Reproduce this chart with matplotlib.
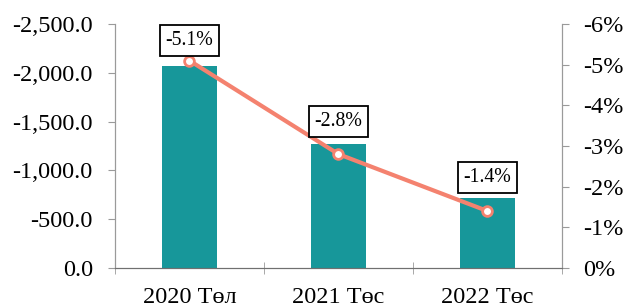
import numpy as np
import matplotlib
matplotlib.use("Agg")
import matplotlib.pyplot as plt
from matplotlib.ticker import FuncFormatter, FixedLocator

plt.rcParams['font.family'] = ['Liberation Serif', 'DejaVu Serif']

# data
categories = ["2020 Төл", "2021 Төс", "2022 Төс"]
balance = [-2070.0, -1270.0, -720.0]      # left axis (bars)
pct = [-5.1, -2.8, -1.4]                   # right axis (line, %)
pct_labels = ["-5.1%", "-2.8%", "-1.4%"]
left_ticks = [0, -500, -1000, -1500, -2000, -2500]
right_ticks = [0, -1, -2, -3, -4, -5, -6]

bar_col = "#17979A"
line_col = "#F4826F"
axis_col = "#9A9A9A"

fig = plt.figure(figsize=(6.27, 3.08), dpi=100)
ax = fig.add_axes([0.1834, 0.1299, 0.7129, 0.7921])
x = np.arange(len(categories))

ax.bar(x, balance, width=0.37, color=bar_col, zorder=2)
ax.set_xlim(-0.5, 2.5)
ax.set_ylim(0, -2500)
ax.yaxis.set_major_locator(FixedLocator(left_ticks))
ax.yaxis.set_major_formatter(FuncFormatter(lambda v, p: "{:,.1f}".format(v) if v != 0 else "0.0"))
ax.set_xticks(x)
ax.set_xticklabels(categories)
ax.set_xticks([-0.5, 0.5, 1.5, 2.5], minor=True)
ax.tick_params(axis='x', which='major', length=0, labelsize=17.5, pad=14)
ax.tick_params(axis='x', which='minor', length=8, direction='inout', color=axis_col)
ax.tick_params(axis='y', length=5, color=axis_col, labelsize=17.5, pad=11)

ax2 = ax.twinx()
ax2.set_ylim(0, -6)
ax2.yaxis.set_major_locator(FixedLocator(right_ticks))
ax2.yaxis.set_major_formatter(FuncFormatter(lambda v, p: "{:.0f}%".format(v) if v != 0 else "0%"))
ax2.tick_params(axis='y', length=5, color=axis_col, labelsize=17.5, pad=10)
ax2.plot(x, pct, color=line_col, lw=3, marker='o', ms=7, mfc='white', mec=line_col, mew=2, zorder=3)

offsets = [14.5, 23.5, 24]
for xi, yi, lab, off in zip(x, pct, pct_labels, offsets):
    ax2.annotate(lab, (xi, yi), xytext=(0, off), textcoords='offset points', ha='center', va='center',
                 fontsize=14.3, bbox=dict(boxstyle='square,pad=0.3', fc='white', ec='black', lw=1.3))

for a in (ax, ax2):
    a.spines['top'].set_visible(False)
    a.spines['left'].set_color(axis_col)
    a.spines['right'].set_color(axis_col)
    a.spines['bottom'].set_color("#707070")

fig.savefig("out.png", dpi=100)
